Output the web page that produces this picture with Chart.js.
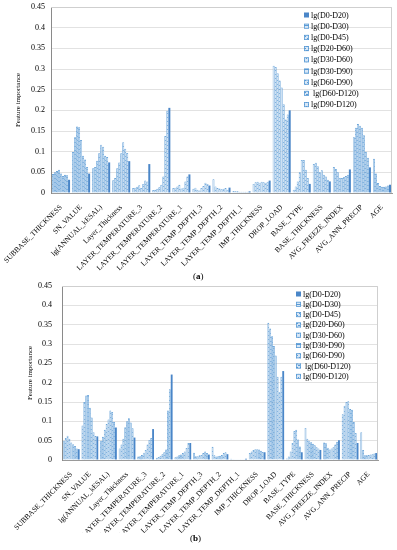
<!DOCTYPE html>
<html><head><meta charset="utf-8">
<script src="https://cdn.jsdelivr.net/npm/chart.js@4.4.1/dist/chart.umd.min.js"></script>
<style>
html,body{margin:0;padding:0;background:#fff;width:397px;height:550px;overflow:hidden;}
#wa{position:absolute;left:0;top:0;width:397px;height:272px;}
#wb{position:absolute;left:0;top:279px;width:397px;height:254px;}
.cap{position:absolute;font-family:"Liberation Serif","Times New Roman",serif;font-size:9px;color:#000;}
</style></head><body>
<div id="wa"><canvas id="ca"></canvas></div>
<div class="cap" style="left:193px;top:271px">(<b>a</b>)</div>
<div id="wb"><canvas id="cb"></canvas></div>
<div class="cap" style="left:190px;top:533px">(<b>b</b>)</div>
<script>
// ---- data ----
const categories = ["SUBBASE_THICKNESS","SN_VALUE","lg(ANNUAL_kESAL)","Layer_Thickness","LAYER_TEMPERATURE_3","LAYER_TEMPERATURE_2","LAYER_TEMPERATURE_1","LAYER_TEMP_DEPTH_3","LAYER_TEMP_DEPTH_2","LAYER_TEMP_DEPTH_1","IMP_THICKNESS","DROP_LOAD","BASE_TYPE","BASE_THICKNESS","AVG_FREEZE_INDEX","AVG_ANN_PRECIP","AGE"];
// legend order
const seriesNames = ["lg(D0-D20)","lg(D0-D30)","lg(D0-D45)","lg(D20-D60)","lg(D30-D60)","lg(D30-D90)","lg(D60-D90)"," lg(D60-D120)","lg(D90-D120)"];
const yTicks = [0,0.05,0.1,0.15,0.2,0.25,0.3,0.35,0.4,0.45];
// rows = categories; columns = bars left->right in each group:
// lg(D90-D120), lg(D60-D120), lg(D60-D90), lg(D30-D90), lg(D30-D60), lg(D20-D60), lg(D0-D45), lg(D0-D30), lg(D0-D20)
const importanceA = [
 [0.046,0.050,0.053,0.056,0.047,0.041,0.044,0.043,0.032],
 [0.099,0.135,0.161,0.159,0.128,0.090,0.081,0.063,0.047],
 [0.060,0.063,0.078,0.096,0.117,0.112,0.090,0.087,0.074],
 [0.031,0.036,0.060,0.074,0.096,0.123,0.107,0.097,0.077],
 [0.012,0.013,0.015,0.019,0.012,0.022,0.030,0.028,0.070],
 [0.007,0.008,0.010,0.014,0.020,0.040,0.138,0.199,0.206],
 [0.012,0.013,0.016,0.020,0.011,0.013,0.028,0.040,0.045],
 [0.010,0.013,0.008,0.006,0.012,0.017,0.025,0.022,0.018],
 [0.033,0.016,0.012,0.011,0.009,0.010,0.012,0.008,0.013],
 [0.005,0.004,0.004,0.003,0.003,0.003,0.003,0.003,0.004],
 [0.022,0.026,0.027,0.025,0.027,0.026,0.025,0.027,0.030],
 [0.308,0.305,0.290,0.272,0.255,0.215,0.178,0.190,0.200],
 [0.008,0.016,0.028,0.050,0.080,0.080,0.056,0.036,0.022],
 [0.070,0.073,0.065,0.050,0.055,0.044,0.040,0.032,0.028],
 [0.063,0.058,0.050,0.037,0.036,0.039,0.041,0.044,0.057],
 [0.135,0.158,0.167,0.163,0.158,0.140,0.100,0.085,0.062],
 [0.083,0.047,0.024,0.017,0.015,0.015,0.016,0.018,0.020]
];
const importanceB = [
 [0.050,0.057,0.063,0.055,0.045,0.041,0.036,0.030,0.028],
 [0.089,0.150,0.167,0.168,0.135,0.110,0.072,0.062,0.061],
 [0.050,0.060,0.078,0.093,0.105,0.128,0.124,0.098,0.084],
 [0.030,0.040,0.055,0.085,0.100,0.108,0.097,0.082,0.058],
 [0.009,0.010,0.013,0.019,0.026,0.040,0.052,0.057,0.080],
 [0.006,0.008,0.011,0.015,0.020,0.027,0.128,0.183,0.221],
 [0.007,0.009,0.012,0.014,0.018,0.022,0.031,0.044,0.044],
 [0.019,0.010,0.010,0.012,0.013,0.018,0.022,0.018,0.014],
 [0.034,0.012,0.009,0.010,0.011,0.013,0.018,0.020,0.015],
 [0.003,0.002,0.002,0.002,0.002,0.002,0.002,0.002,0.003],
 [0.018,0.022,0.026,0.028,0.028,0.027,0.024,0.021,0.020],
 [0.355,0.340,0.320,0.295,0.270,0.215,0.175,0.215,0.230],
 [0.004,0.009,0.022,0.044,0.075,0.078,0.053,0.035,0.020],
 [0.083,0.055,0.050,0.046,0.042,0.038,0.033,0.030,0.026],
 [0.045,0.043,0.032,0.027,0.030,0.033,0.040,0.047,0.051],
 [0.118,0.140,0.150,0.152,0.132,0.130,0.098,0.070,0.044],
 [0.072,0.026,0.012,0.012,0.013,0.014,0.015,0.017,0.018]
];

// ---- styling ----
const FONT = '"Liberation Serif","Times New Roman",serif';
const BLUE = '#5b9bd5', SOLID = '#4a86c8';
function makePattern(kind){
  const c=document.createElement('canvas'); c.width=4; c.height=4;
  const g=c.getContext('2d');
  g.fillStyle='#d8e7f6'; g.fillRect(0,0,4,4);
  g.fillStyle=BLUE;
  switch(kind%4){
    case 0: g.fillRect(0,0,1,1); g.fillRect(2,2,1,1); break;
    case 1: g.fillRect(0,0,2,1); g.fillRect(2,2,2,1); break;
    case 2: g.fillRect(1,0,1,1); g.fillRect(3,2,1,1); g.fillRect(0,3,1,1); break;
    case 3: g.fillRect(0,1,4,1); break;
  }
  return g.createPattern(c,'repeat');
}

function buildDatasets(rows){
  const n = seriesNames.length;
  const ds=[];
  for(let j=0;j<n;j++){
    const name = seriesNames[n-1-j];
    const solid = (j===n-1);
    ds.push({
      label:name,
      data: rows.map(r=>r[j]),
      backgroundColor: solid ? SOLID : makePattern(j),
      borderColor: solid ? SOLID : BLUE,
      borderWidth: solid ? 0 : 0.7,
      categoryPercentage:0.9,
      barPercentage:1.0
    });
  }
  return ds;
}

const insideLegend = {
  id:'insideLegend',
  afterDraw(chart, args, o){
    const ctx=chart.ctx, ds=chart.data.datasets, n=ds.length;
    ctx.save();
    ctx.font = '8px '+FONT;
    ctx.textBaseline='middle';
    for(let i=0;i<n;i++){
      const d=ds[n-1-i];
      const y=o.y+i*o.step;
      ctx.fillStyle=d.backgroundColor; ctx.fillRect(o.x,y-2.5,5,5);
      if(d.borderWidth){ctx.strokeStyle=d.borderColor; ctx.lineWidth=0.8; ctx.strokeRect(o.x+0.4,y-2.1,4.2,4.2);}
      ctx.fillStyle='#000'; ctx.fillText(d.label, o.tx, y+0.5);
    }
    ctx.restore();
  }
};
const frame = {
  id:'frame',
  beforeDatasetsDraw(chart){
    const {left,top,right,bottom}=chart.chartArea, ctx=chart.ctx;
    ctx.save(); ctx.strokeStyle='#cfcfcf'; ctx.lineWidth=1;
    ctx.beginPath(); ctx.moveTo(left,top+0.5); ctx.lineTo(right-0.5,top+0.5); ctx.lineTo(right-0.5,bottom); ctx.stroke();
    ctx.restore();
  }
};

function makeChart(id, rows, cfg){
  return new Chart(document.getElementById(id), {
    type:'bar',
    data:{labels:categories, datasets:buildDatasets(rows)},
    plugins:[frame, insideLegend],
    options:{
      responsive:true, maintainAspectRatio:false, animation:false,
      events:[],
      layout:{padding:{left:cfg.padL, right:cfg.padR, top:cfg.padT, bottom:0}},
      plugins:{legend:{display:false}, tooltip:{enabled:false}, insideLegend:cfg.legend},
      scales:{
        x:{
          grid:{display:false},
          border:{display:true,color:'#9a9a9a'},
          ticks:{autoSkip:false,minRotation:45,maxRotation:45,padding:2,color:'#000',font:{family:FONT,size:7.5}},
          afterFit(s){s.paddingLeft=0;s.paddingRight=0;s.height=cfg.xH;}
        },
        y:{
          min:0,max:0.45,
          afterBuildTicks(s){s.ticks=yTicks.map(v=>({value:v}));},
          grid:{color:'#e2e2e2',drawTicks:false},
          border:{display:true,color:'#8a8a8a'},
          ticks:{padding:cfg.tickPad,color:'#000',font:{family:FONT,size:8},callback:v=>String(+(+v).toFixed(2))},
          title:{display:true,text:'Feature importance',color:'#000',font:{family:FONT,size:7}},
          afterFit(s){s.paddingTop=0;s.paddingBottom=0;s.width=cfg.yW;}
        }
      }
    }
  });
}

makeChart('ca', importanceA, {padL:10,padR:5,padT:7,xH:79,yW:41,tickPad:6,
  legend:{x:304,tx:311,y:15,step:11.2}});
makeChart('cb', importanceB, {padL:22,padR:19,padT:7,xH:73,yW:40,tickPad:10,
  legend:{x:296,tx:303,y:15,step:10.3}});
</script>
</body></html>
